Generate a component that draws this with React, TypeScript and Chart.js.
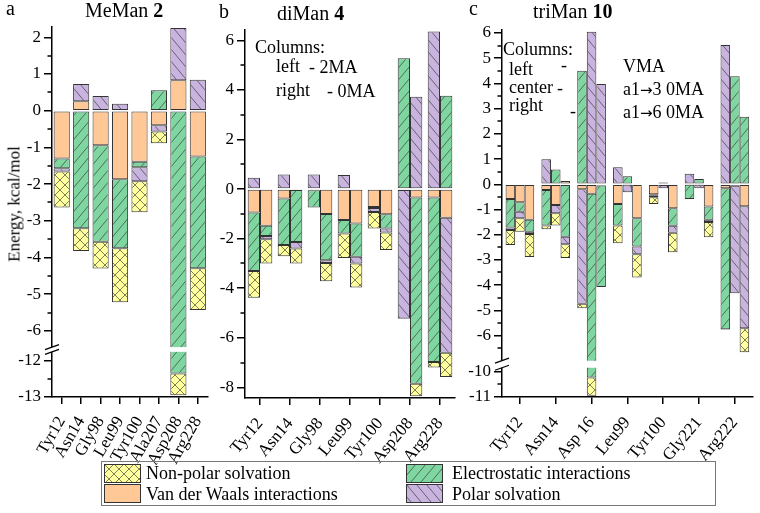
import React, { useEffect, useRef } from 'react';
import { Chart, registerables, LinearScale } from 'chart.js';

Chart.register(...registerables);

class BrokenScale extends LinearScale {
  static id = 'broken';
  static defaults = {};
  fwd(v: number): number {
    const o: any = this.options;
    const hi = o.breakHi, lo = o.breakLo, s = o.breakShift;
    if (hi === undefined || hi === null) return v;
    if (v >= hi) return v;
    if (v <= lo) return v + s;
    const t = (hi - v) / (hi - lo);
    return hi + t * (lo + s - hi);
  }
  getPixelForValue(value: any) {
    if (value === null || value === undefined || isNaN(value)) return NaN;
    const a = this.fwd(this.min), b = this.fwd(this.max);
    return this.getPixelForDecimal((this.fwd(value) - a) / (b - a));
  }
  getValueForPixel(pixel: number) {
    const a = this.fwd(this.min), b = this.fwd(this.max);
    const d = a + this.getDecimalForPixel(pixel) * (b - a);
    const o: any = this.options;
    if (o.breakHi === undefined || d >= o.breakHi) return d;
    return d - o.breakShift;
  }
}
Chart.register(BrokenScale as any);

const FONT = '"Liberation Serif", "Times New Roman", serif';
Chart.defaults.font.family = FONT;
Chart.defaults.color = '#000';

// ---------- Panel a: MeMan 2 ----------
const labelsA = ['Tyr12', 'Asn14', 'Gly98', 'Leu99', 'Tyr100', 'Ala207', 'Asp208', 'Arg228'];
const vdwA = [-1.30, 0.26, -0.94, -1.87, -1.39, -0.40, 0.83, -1.25];
const elecA = [-0.27, -3.20, -2.63, -1.88, -0.15, 0.56, -12.36, -3.04];
const polarA = [-0.09, 0.47, 0.40, 0.19, -0.38, -0.17, 1.42, 0.84];
const nonpolarA = [-0.98, -0.62, -0.73, -1.47, -0.85, -0.32, -0.59, -1.14];
const majorsA = [2, 1, 0, -1, -2, -3, -4, -5, -6, -12, -13];
const minorsA = [1.5, 0.5, -0.5, -1.5, -2.5, -3.5, -4.5, -5.5, -12.5];

// ---------- Panel b: diMan 4 (left = 2MA, right = 0MA) ----------
const labelsB = ['Tyr12', 'Asn14', 'Gly98', 'Leu99', 'Tyr100', 'Asp208', 'Arg228'];
const vdwB_L = [-0.94, -0.38, -0.05, -1.25, -0.72, -0.04, -0.34];
const elecB_L = [-2.37, -1.88, -0.69, -0.54, -0.04, 5.28, -6.64];
const polarB_L = [0.46, 0.59, 0.59, 0.57, -0.16, -5.18, 6.36];
const nonpolarB_L = [-1.07, -0.45, 0, -0.99, -0.67, -0.02, -0.22];
const vdwB_R = [-1.48, -0.04, -1.01, -1.39, -1.02, -0.34, -1.16];
const elecB_R = [-0.41, -2.09, -1.86, -1.34, -0.57, -7.51, 3.77];
const polarB_R = [-0.13, -0.27, -0.11, -0.27, -0.16, 3.73, -5.44];
const nonpolarB_R = [-0.98, -0.60, -0.74, -0.97, -0.71, -0.51, -0.98];
const majorsB = [6, 4, 2, 0, -2, -4, -6, -8];
const minorsB = [5, 3, 1, -1, -3, -5, -7];

// ---------- Panel c: triMan 10 (left = VMA, center = a1→3 0MA, right = a1→6 0MA) ----------
const labelsC = ['Tyr12', 'Asn14', 'Asp 16', 'Leu99', 'Tyr100', 'Gly221', 'Arg222'];
const vdwC_L = [-0.58, -0.23, -0.20, -0.78, -0.40, -0.02, -0.16];
const elecC_L = [-1.14, -1.41, 4.50, -0.86, -0.06, -0.56, -5.59];
const polarC_L = [-0.09, 0.99, -4.54, 0.67, -0.06, 0.42, 5.52];
const nonpolarC_L = [-0.60, -0.14, -0.18, -0.70, -0.26, 0, -0.02];
const vdwC_C = [-0.71, -0.82, -0.38, -0.02, -0.03, -0.02, -0.06];
const elecC_C = [-0.38, 0.59, -9.85, 0.32, 0.07, 0.21, 4.29];
const polarC_C = [-0.26, -0.33, 6.05, -0.30, -0.13, -0.14, -4.26];
const nonpolarC_C = [-0.53, -0.49, -0.72, 0, 0, 0, 0];
const vdwC_R = [-1.41, 0.13, -0.05, -1.35, -0.95, -0.88, -0.87];
const elecC_R = [-0.47, -2.08, -4.03, -1.12, -0.70, -0.53, 2.68];
const polarC_R = [-0.09, -0.30, 3.98, -0.31, -0.27, -0.09, -4.84];
const nonpolarC_R = [-0.92, -0.55, 0, -0.92, -0.78, -0.60, -0.95];
const majorsC = [6, 5, 4, 3, 2, 1, 0, -1, -2, -3, -4, -5, -6, -10, -11];
const minorsC = [5.5, 4.5, 3.5, 2.5, 1.5, 0.5, -0.5, -1.5, -2.5, -3.5, -4.5, -5.5, -6.5, -10.5];

const COLORS = {
  nonpolar: '#ffff9e',
  vdw: '#ffc896',
  elec: '#7fd6a0',
  polar: '#c8b4de',
};

type Kind = 'nonpolar' | 'vdw' | 'elec' | 'polar';

function makeFill(kind: Kind): any {
  const fill = COLORS[kind];
  if (kind === 'vdw') return fill;
  const w = 10;
  const h = kind === 'nonpolar' ? 10 : 12;
  const c = document.createElement('canvas');
  c.width = w;
  c.height = h;
  const g = c.getContext('2d')!;
  g.fillStyle = fill;
  g.fillRect(0, 0, w, h);
  g.strokeStyle = 'rgba(40,40,40,0.75)';
  g.lineWidth = 0.8;
  const fwd = () => {
    for (const dx of [-w, 0, w]) {
      g.beginPath();
      g.moveTo(dx, h);
      g.lineTo(dx + w, 0);
      g.stroke();
    }
  };
  const back = () => {
    for (const dx of [-w, 0, w]) {
      g.beginPath();
      g.moveTo(dx, 0);
      g.lineTo(dx + w, h);
      g.stroke();
    }
  };
  if (kind === 'elec' || kind === 'nonpolar') fwd();
  if (kind === 'polar' || kind === 'nonpolar') back();
  return g.createPattern(c, 'repeat');
}

function extrasPlugin(minors: number[], brk: number[] | null) {
  return {
    id: 'extras',
    afterDraw(chart: any) {
      const ctx = chart.ctx;
      const y = chart.scales.y;
      const area = chart.chartArea;
      const x0 = area.left;
      ctx.save();
      ctx.strokeStyle = '#000';
      ctx.lineWidth = 1.5;
      for (const v of minors) {
        const py = Math.round(y.getPixelForValue(v));
        ctx.beginPath();
        ctx.moveTo(x0 - 4.5, py);
        ctx.lineTo(x0, py);
        ctx.stroke();
      }
      if (brk) {
        const yA = y.getPixelForValue(brk[0]);
        const yB = y.getPixelForValue(brk[1]);
        ctx.fillStyle = '#fff';
        ctx.fillRect(x0 - 2, yA, area.right - x0 + 2, yB - yA);
        ctx.lineWidth = 1.3;
        for (const yy of [yA, yB]) {
          ctx.beginPath();
          ctx.moveTo(x0 - 7, yy + 2.5);
          ctx.lineTo(x0 + 7, yy - 2.5);
          ctx.stroke();
        }
      }
      ctx.restore();
    },
  };
}

interface PanelSpec {
  labels: string[];
  columns: { stack: string; vdw: number[]; elec: number[]; polar: number[]; nonpolar: number[] }[];
  min: number;
  max: number;
  majors: number[];
  minors: number[];
  brk: number[] | null; // [hi, lo, shift]
  rotation: number;
  padTop: number;
  padRight: number;
  yWidth: number;
  xHeight: number;
  barPct: number;
  catPct: number;
}

function buildConfig(p: PanelSpec): any {
  const fills = {
    vdw: makeFill('vdw'),
    elec: makeFill('elec'),
    polar: makeFill('polar'),
    nonpolar: makeFill('nonpolar'),
  };
  const datasets: any[] = [];
  for (const col of p.columns) {
    const parts: [string, Kind, number[]][] = [
      ['Van der Waals interactions', 'vdw', col.vdw],
      ['Electrostatic interactions', 'elec', col.elec],
      ['Polar solvation', 'polar', col.polar],
      ['Non-polar solvation', 'nonpolar', col.nonpolar],
    ];
    for (const [label, kind, data] of parts) {
      datasets.push({
        label,
        data,
        stack: col.stack,
        backgroundColor: fills[kind],
        borderColor: '#333',
        borderWidth: 1,
        borderSkipped: false,
        barPercentage: p.barPct,
        categoryPercentage: p.catPct,
      });
    }
  }
  const yOpts: any = {
    type: 'broken',
    stacked: true,
    min: p.min,
    max: p.max,
    bounds: 'data',
    grid: { display: true, drawOnChartArea: false, drawTicks: true, tickLength: 8, color: '#000', lineWidth: 1.5 },
    border: { display: true, color: '#000', width: 1.5 },
    ticks: { font: { family: FONT, size: 17 }, color: '#000', autoSkip: false, padding: 3, callback: (v: any) => String(v) },
    afterBuildTicks: (s: any) => {
      s.ticks = p.majors.map((v) => ({ value: v }));
    },
    afterFit: (s: any) => {
      s.width = p.yWidth;
    },
  };
  if (p.brk) {
    yOpts.breakHi = p.brk[0];
    yOpts.breakLo = p.brk[1];
    yOpts.breakShift = p.brk[2];
  }
  return {
    type: 'bar',
    data: { labels: p.labels, datasets },
    options: {
      animation: false,
      responsive: false,
      devicePixelRatio: 1,
      layout: { padding: { top: p.padTop, right: p.padRight, left: 0, bottom: 0 } },
      plugins: { legend: { display: false }, tooltip: { enabled: false } },
      scales: {
        x: {
          stacked: true,
          offset: true,
          grid: { display: true, drawOnChartArea: false, drawTicks: true, tickLength: 7, offset: false, color: '#000', lineWidth: 1.5 },
          border: { display: true, color: '#000', width: 1.5 },
          ticks: { font: { family: FONT, size: 17 }, color: '#000', minRotation: p.rotation, maxRotation: p.rotation, autoSkip: false, padding: 9 },
          afterFit: (s: any) => {
            s.height = p.xHeight;
          },
        },
        y: yOpts,
      },
    },
    plugins: [extrasPlugin(p.minors, p.brk)],
  };
}

const specA: PanelSpec = {
  labels: labelsA,
  columns: [{ stack: 's', vdw: vdwA, elec: elecA, polar: polarA, nonpolar: nonpolarA }],
  min: -13, max: 2.28, majors: majorsA, minors: minorsA, brk: [-6.44, -11.77, 5.2],
  rotation: 60, padTop: 27, padRight: 8, yWidth: 52, xHeight: 68, barPct: 0.83, catPct: 1,
};
const specB: PanelSpec = {
  labels: labelsB,
  columns: [
    { stack: 'L', vdw: vdwB_L, elec: elecB_L, polar: polarB_L, nonpolar: nonpolarB_L },
    { stack: 'R', vdw: vdwB_R, elec: elecB_R, polar: polarB_R, nonpolar: nonpolarB_R },
  ],
  min: -8.43, max: 6.42, majors: majorsB, minors: minorsB, brk: null,
  rotation: 50, padTop: 30, padRight: 5, yWidth: 50, xHeight: 67, barPct: 1, catPct: 0.82,
};
const specC: PanelSpec = {
  labels: labelsC,
  columns: [
    { stack: 'L', vdw: vdwC_L, elec: elecC_L, polar: polarC_L, nonpolar: nonpolarC_L },
    { stack: 'C', vdw: vdwC_C, elec: elecC_C, polar: polarC_C, nonpolar: nonpolarC_C },
    { stack: 'R', vdw: vdwC_R, elec: elecC_R, polar: polarC_R, nonpolar: nonpolarC_R },
  ],
  min: -11, max: 6.12, majors: majorsC, minors: minorsC, brk: [-7.0, -9.84, 2.56],
  rotation: 50, padTop: 30, padRight: 7, yWidth: 47, xHeight: 68, barPct: 1, catPct: 0.8,
};

function Panel({ spec, left, width, height }: { spec: PanelSpec; left: number; width: number; height: number }) {
  const ref = useRef<HTMLCanvasElement>(null);
  useEffect(() => {
    if (!ref.current) return;
    const chart = new Chart(ref.current, buildConfig(spec));
    return () => chart.destroy();
  }, [spec]);
  return (
    <canvas
      ref={ref}
      width={width}
      height={height}
      style={{ position: 'absolute', left, top: 0, width, height }}
    />
  );
}

function Swatch({ kind, left, top }: { kind: Kind; left: number; top: number }) {
  const ref = useRef<HTMLCanvasElement>(null);
  useEffect(() => {
    const c = ref.current;
    if (!c) return;
    const g = c.getContext('2d')!;
    g.fillStyle = makeFill(kind);
    g.fillRect(0, 0, c.width, c.height);
    g.strokeStyle = '#333';
    g.lineWidth = 1;
    g.strokeRect(0.5, 0.5, c.width - 1, c.height - 1);
  }, [kind]);
  return <canvas ref={ref} width={37} height={19} style={{ position: 'absolute', left, top }} />;
}

function Txt({ left, top, size = 18, children }: { left: number; top: number; size?: number; children: any }) {
  return (
    <div
      style={{
        position: 'absolute',
        left,
        top,
        fontSize: size,
        lineHeight: size + 'px',
        whiteSpace: 'nowrap',
        fontFamily: FONT,
        color: '#000',
      }}
    >
      {children}
    </div>
  );
}

const Arrow = () => <span style={{ fontFamily: '"DejaVu Sans", sans-serif', fontSize: 15 }}>→</span>;

export default function App() {
  return (
    <div style={{ position: 'fixed', left: 0, top: 0, width: 760, height: 513, background: '#fff', overflow: 'hidden' }}>
      <Panel spec={specA} left={0} width={225} height={465} />
      <Panel spec={specB} left={195} width={270} height={465} />
      <Panel spec={specC} left={455} width={305} height={465} />

      <Txt left={6} top={-2} size={20}>a</Txt>
      <Txt left={219} top={1} size={20}>b</Txt>
      <Txt left={469} top={-2} size={20}>c</Txt>

      <Txt left={85} top={0} size={20}>MeMan <b>2</b></Txt>
      <Txt left={277} top={3} size={20}>diMan <b>4</b></Txt>
      <Txt left={533} top={1} size={20}>triMan <b>10</b></Txt>

      <div
        style={{
          position: 'absolute',
          left: 14,
          top: 204,
          transform: 'translate(-50%, -50%) rotate(-90deg)',
          fontSize: 17,
          lineHeight: '17px',
          whiteSpace: 'nowrap',
          fontFamily: FONT,
        }}
      >
        Energy, kcal/mol
      </div>

      <Txt left={255} top={38}>Columns:</Txt>
      <Txt left={276} top={57}>left</Txt>
      <Txt left={309} top={58}>- 2MA</Txt>
      <Txt left={276} top={81}>right</Txt>
      <Txt left={327} top={82}>- 0MA</Txt>

      <Txt left={503} top={40}>Columns:</Txt>
      <Txt left={509} top={60}>left</Txt>
      <Txt left={561} top={56}>-</Txt>
      <Txt left={509} top={78}>center</Txt>
      <Txt left={557} top={79}>-</Txt>
      <Txt left={509} top={96}>right</Txt>
      <Txt left={570} top={102}>-</Txt>
      <Txt left={623} top={57}>VMA</Txt>
      <Txt left={623} top={80}>a1<Arrow />3 0MA</Txt>
      <Txt left={623} top={103}>a1<Arrow />6 0MA</Txt>

      <div style={{ position: 'absolute', left: 101, top: 461, width: 613, height: 43, border: '1px solid #777' }} />
      <Swatch kind="nonpolar" left={104} top={464} />
      <Swatch kind="vdw" left={104} top={484} />
      <Swatch kind="elec" left={406} top={464} />
      <Swatch kind="polar" left={406} top={484} />
      <Txt left={146} top={464}>Non-polar solvation</Txt>
      <Txt left={146} top={485}>Van der Waals interactions</Txt>
      <Txt left={452} top={464}>Electrostatic interactions</Txt>
      <Txt left={452} top={485}>Polar solvation</Txt>
    </div>
  );
}
